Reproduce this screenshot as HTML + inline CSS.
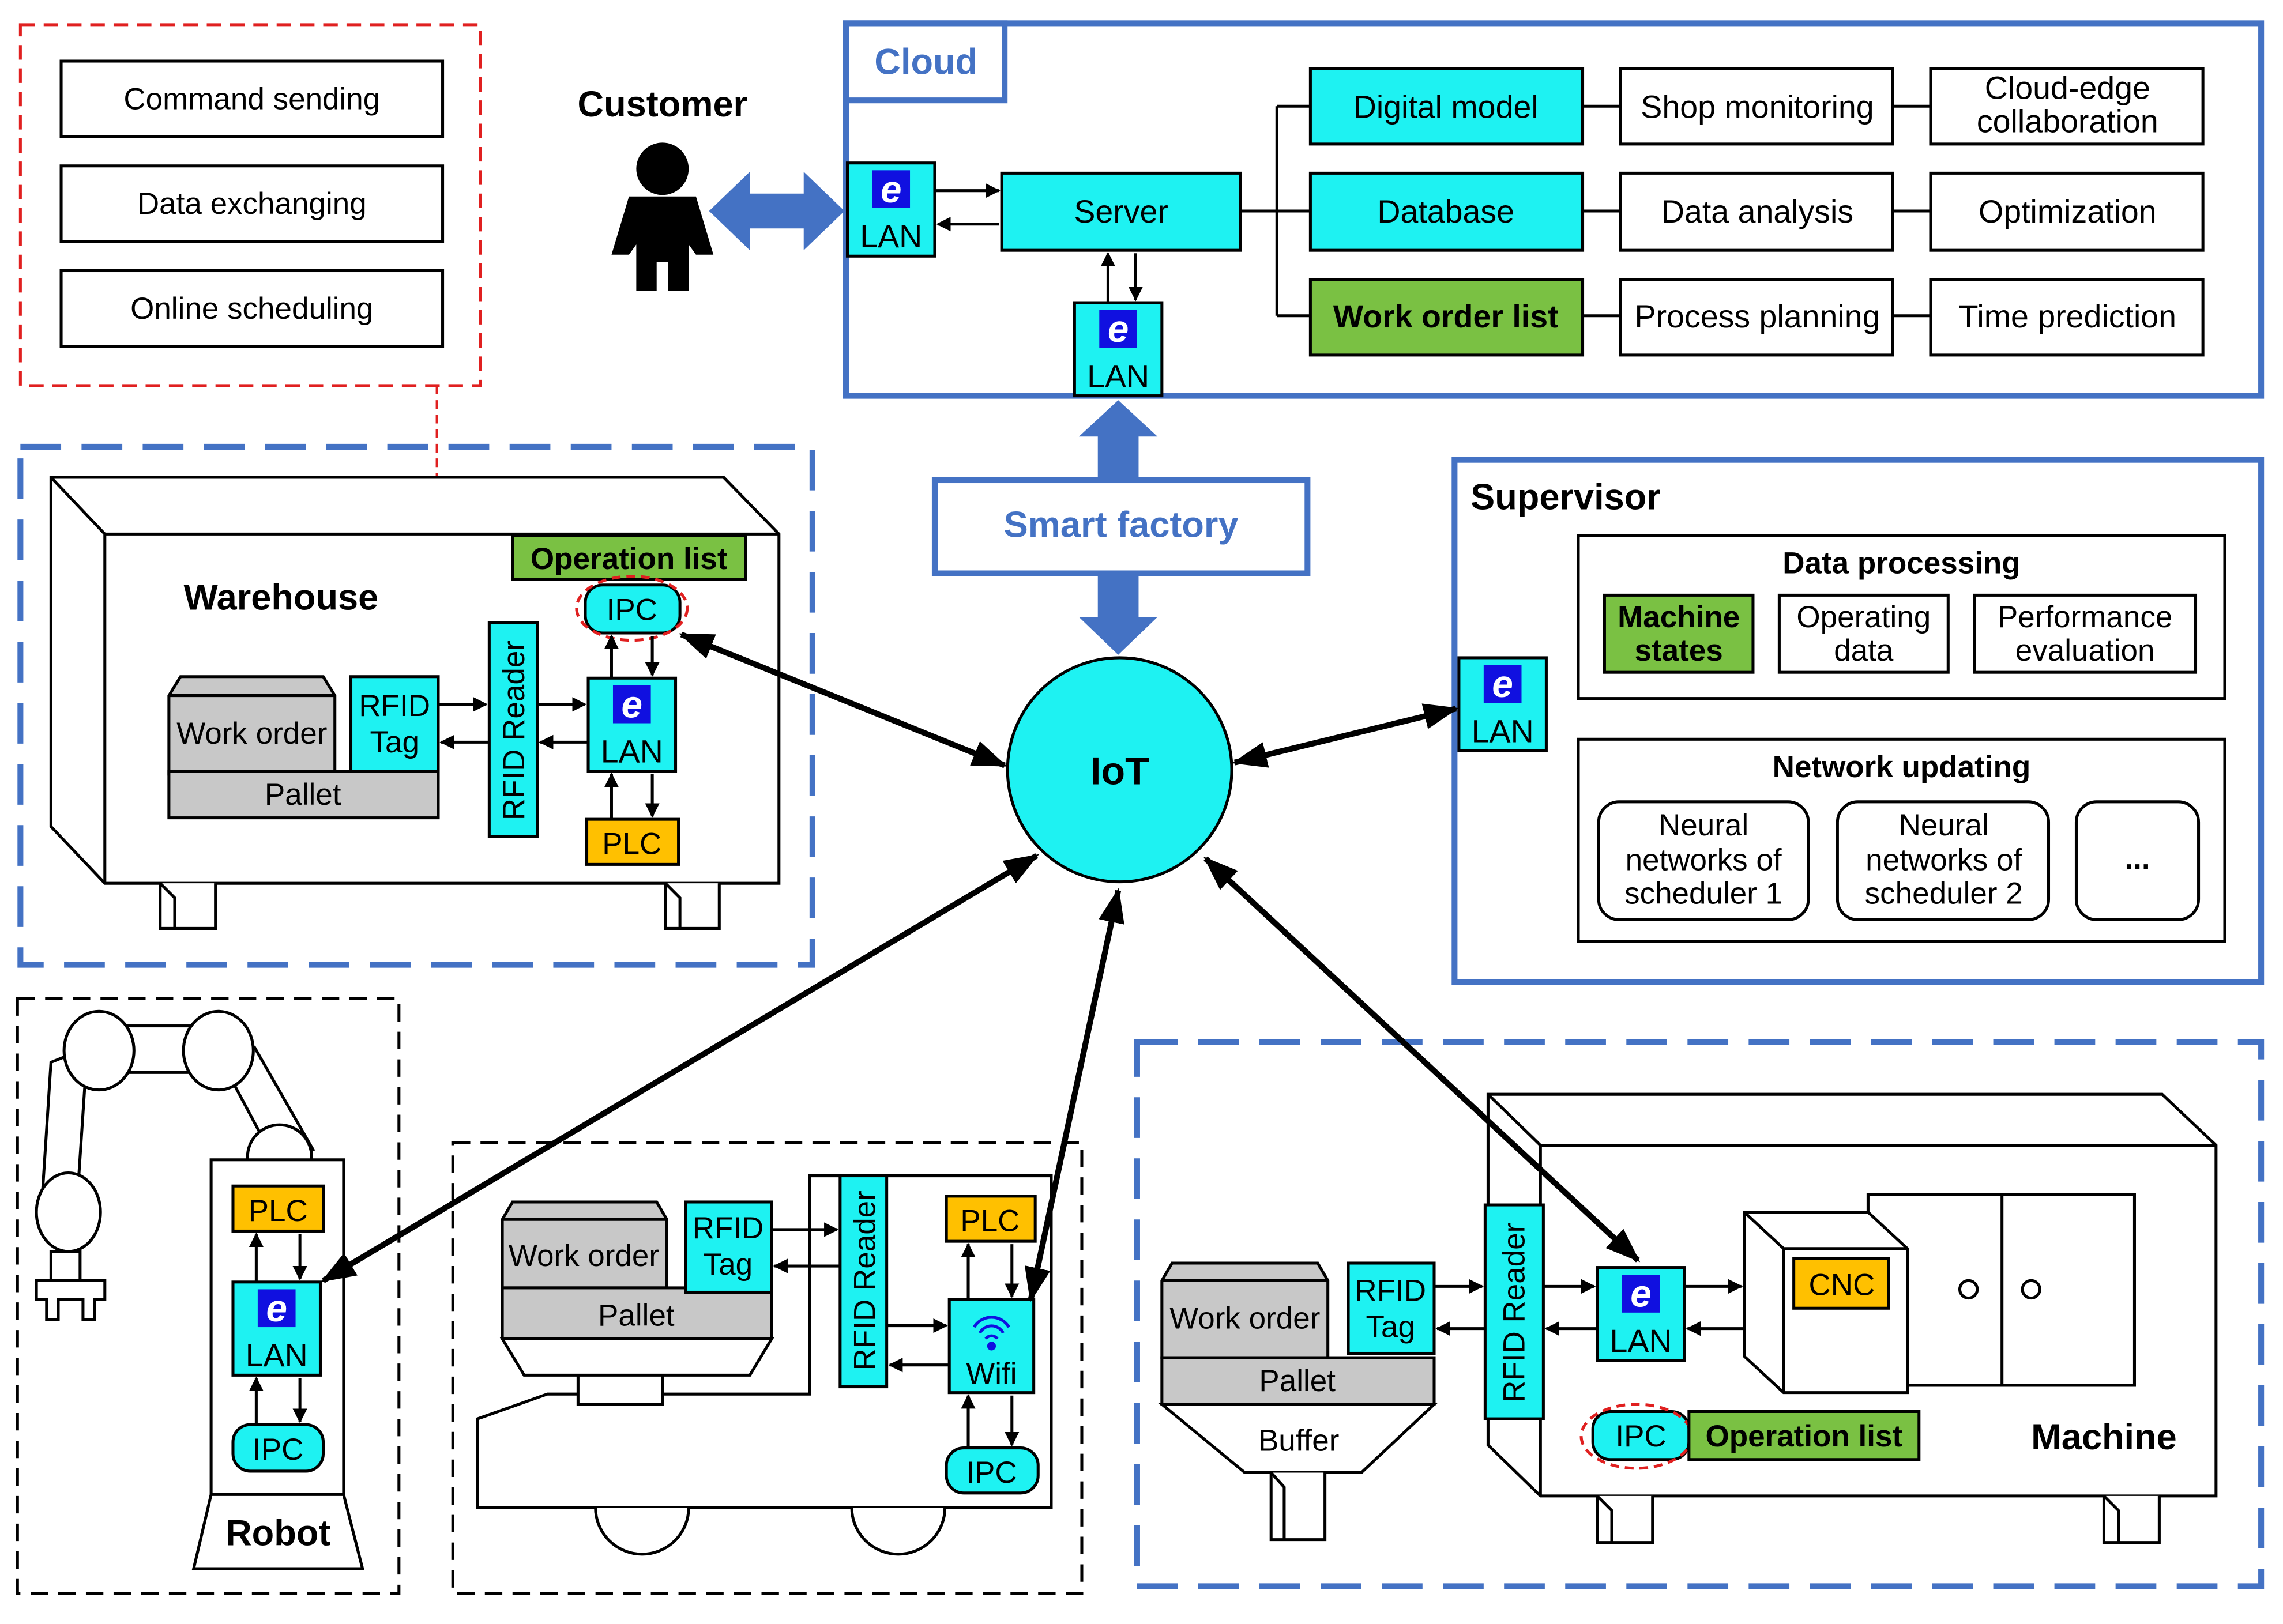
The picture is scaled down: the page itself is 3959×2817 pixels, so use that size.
<!DOCTYPE html>
<html><head><meta charset="utf-8"><style>
html,body{margin:0;padding:0;background:#fff}
svg{display:block}
text{font-family:"Liberation Sans",sans-serif;fill:#000}
.c{fill:#1ef2f2;stroke:#000;stroke-width:2}
.g{fill:#7ac143;stroke:#000;stroke-width:2}
.o{fill:#ffc000;stroke:#000;stroke-width:2}
.w{fill:#fff;stroke:#000;stroke-width:2}
.gr{fill:#c8c8c8;stroke:#000;stroke-width:2}
.ln{fill:none;stroke:#000;stroke-width:2}
.a{fill:none;stroke:#000;stroke-width:2;marker-end:url(#ah)}
.aa{fill:none;stroke:#000;stroke-width:4;marker-end:url(#bh);marker-start:url(#bh)}
.bd{fill:none;stroke:#4472c4;stroke-width:4;stroke-dasharray:28 14}
.kd{fill:none;stroke:#000;stroke-width:2;stroke-dasharray:12 7}
.bs{fill:none;stroke:#4472c4;stroke-width:4}
</style></head><body>
<svg width="3959" height="2817" viewBox="0 0 1568 1116" preserveAspectRatio="none" xmlns="http://www.w3.org/2000/svg">
<defs>
<marker id="ah" markerWidth="10" markerHeight="10" refX="9" refY="5" orient="auto" markerUnits="userSpaceOnUse"><path d="M0,0 L10,5 L0,10 z" fill="#000"/></marker>
<marker id="bh" markerWidth="24" markerHeight="18" refX="22" refY="9" orient="auto-start-reverse" markerUnits="userSpaceOnUse"><path d="M0,0 L24,9 L0,18 z" fill="#000"/></marker>
<g id="lan"><rect class="c" x="0" y="0" width="60" height="64"/><rect x="17" y="5" width="26" height="26" fill="#1010e0"/><text x="30" y="27" text-anchor="middle" font-family="Liberation Serif" font-style="italic" font-weight="bold" font-size="26" style="fill:#fff">e</text><text x="30" y="58" text-anchor="middle" font-size="22">LAN</text></g>
</defs>

<!-- red dashed -->
<rect x="14" y="17" width="316" height="248" fill="none" stroke="#e02020" stroke-width="2" stroke-dasharray="10 6"/>
<path d="M300,265 V417 H402" fill="none" stroke="#e02020" stroke-width="1.5" stroke-dasharray="6 4"/>
<g font-size="21" text-anchor="middle">
<rect class="w" x="42" y="42" width="262" height="52"/><text x="173" y="75">Command sending</text>
<rect class="w" x="42" y="114" width="262" height="52"/><text x="173" y="147">Data exchanging</text>
<rect class="w" x="42" y="186" width="262" height="52"/><text x="173" y="219">Online scheduling</text>
</g>

<!-- customer -->
<text x="455" y="80" font-size="25" font-weight="bold" text-anchor="middle">Customer</text>
<circle cx="455" cy="116" r="18" fill="#000"/>
<path d="M432,135 H478 L490,175 H478 L473,168 V200 H459 V180 H451 V200 H437 V168 L432,175 H420 Z" fill="#000"/>
<path d="M487,145 L515,118 V133 H552 V118 L580,145 L552,172 V157 H515 V172 Z" fill="#4472c4"/>

<!-- cloud -->
<rect class="bs" x="581" y="16" width="972" height="256"/>
<rect class="bs" x="581" y="16" width="109" height="53"/>
<text x="636" y="51" font-size="25" font-weight="bold" text-anchor="middle" style="fill:#4472c4">Cloud</text>
<use href="#lan" x="582" y="112"/>
<rect class="c" x="688" y="119" width="164" height="53"/><text x="770" y="153" font-size="22" text-anchor="middle">Server</text>
<path class="a" d="M642,131 H686"/><path class="a" d="M686,154 H644"/>
<use href="#lan" x="738" y="208"/>
<path class="a" d="M761,207 V174"/><path class="a" d="M780,174 V206"/>
<path class="ln" d="M852,145 H877 M877,73 V217 M877,73 H900 M877,217 H900 M877,145 H900"/>
<g font-size="22" text-anchor="middle">
<rect class="c" x="900" y="47" width="187" height="52"/><text x="993" y="81">Digital model</text>
<rect class="c" x="900" y="119" width="187" height="53"/><text x="993" y="153">Database</text>
<rect class="g" x="900" y="192" width="187" height="52"/><text x="993" y="225" font-weight="bold">Work order list</text>
<path class="ln" d="M1087,73 H1113 M1087,145 H1113 M1087,217 H1113 M1300,73 H1326 M1300,145 H1326 M1300,217 H1326"/>
<rect class="w" x="1113" y="47" width="187" height="52"/><text x="1207" y="81">Shop monitoring</text>
<rect class="w" x="1113" y="119" width="187" height="53"/><text x="1207" y="153">Data analysis</text>
<rect class="w" x="1113" y="192" width="187" height="52"/><text x="1207" y="225">Process planning</text>
<rect class="w" x="1326" y="47" width="187" height="52"/><text x="1420" y="68">Cloud-edge</text><text x="1420" y="91">collaboration</text>
<rect class="w" x="1326" y="119" width="187" height="53"/><text x="1420" y="153">Optimization</text>
<rect class="w" x="1326" y="192" width="187" height="52"/><text x="1420" y="225">Time prediction</text>
</g>

<!-- smart factory -->
<path d="M768,275 L795,300 H782 V330 H754 V300 H741 Z" fill="#4472c4"/>
<rect class="bs" x="642" y="330" width="256" height="64" fill="#fff"/>
<text x="770" y="369" font-size="25" font-weight="bold" text-anchor="middle" style="fill:#4472c4">Smart factory</text>
<path d="M754,394 H782 V424 H795 L768,450 L741,424 H754 Z" fill="#4472c4"/>
<circle cx="769" cy="529" r="77" class="c"/>
<text x="769" y="539" font-size="27" font-weight="bold" text-anchor="middle">IoT</text>

<!-- warehouse -->
<rect class="bd" x="14" y="307" width="544" height="356"/>
<path class="w" d="M35,328 H497 L535,367 V607 H72 L35,568 Z"/>
<path class="ln" d="M35,328 L72,367 H535 M72,367 V607"/>
<path class="w" d="M110,607 V638 H148 V607 M457,607 V638 H494 V607"/>
<path class="ln" d="M110,607 L120,617 V638 M457,607 L467,617 V638"/>
<text x="193" y="419" font-size="25" font-weight="bold" text-anchor="middle">Warehouse</text>
<rect class="g" x="352" y="368" width="160" height="30"/><text x="432" y="391" font-size="21" font-weight="bold" text-anchor="middle">Operation list</text>
<rect class="c" x="402" y="402" width="65" height="33" rx="12"/><text x="434" y="426" font-size="21" text-anchor="middle">IPC</text>
<ellipse cx="434" cy="418" rx="38" ry="22" fill="none" stroke="#e02020" stroke-width="2" stroke-dasharray="6 4"/>
<rect class="c" x="336" y="428" width="33" height="147"/><text transform="translate(360,502) rotate(-90)" font-size="21" text-anchor="middle">RFID Reader</text>
<use href="#lan" x="404" y="466"/>
<rect class="o" x="403" y="563" width="63" height="31"/><text x="434" y="587" font-size="21" text-anchor="middle">PLC</text>
<path class="gr" d="M116,478 L124,465 H222 L230,478 V532 H116 Z"/><path class="ln" d="M116,478 H230"/>
<text x="173" y="511" font-size="21" text-anchor="middle">Work order</text>
<rect class="gr" x="116" y="530" width="185" height="32"/><text x="208" y="553" font-size="21" text-anchor="middle">Pallet</text>
<rect class="c" x="241" y="465" width="60" height="65"/><text x="271" y="492" font-size="21" text-anchor="middle">RFID</text><text x="271" y="517" font-size="21" text-anchor="middle">Tag</text>
<path class="a" d="M301,484 H334"/><path class="a" d="M336,510 H303"/>
<path class="a" d="M369,484 H402"/><path class="a" d="M404,510 H371"/>
<path class="a" d="M420,466 V437"/><path class="a" d="M448,437 V464"/>
<path class="a" d="M420,563 V532"/><path class="a" d="M448,532 V561"/>
<path class="aa" d="M468,436 L690,526"/>

<!-- supervisor -->
<rect class="bs" x="999" y="316" width="554" height="359"/>
<text x="1010" y="350" font-size="25" font-weight="bold">Supervisor</text>
<use href="#lan" x="1002" y="452"/>
<path class="aa" d="M848,524 L1000,487"/>
<rect class="w" x="1084" y="368" width="444" height="112"/>
<text x="1306" y="394" font-size="21" font-weight="bold" text-anchor="middle">Data processing</text>
<g font-size="21" text-anchor="middle">
<rect class="g" x="1102" y="409" width="102" height="53"/><text x="1153" y="431" font-weight="bold">Machine</text><text x="1153" y="454" font-weight="bold">states</text>
<rect class="w" x="1222" y="409" width="116" height="53"/><text x="1280" y="431">Operating</text><text x="1280" y="454">data</text>
<rect class="w" x="1356" y="409" width="152" height="53"/><text x="1432" y="431">Performance</text><text x="1432" y="454">evaluation</text>
</g>
<rect class="w" x="1084" y="508" width="444" height="139"/>
<text x="1306" y="534" font-size="21" font-weight="bold" text-anchor="middle">Network updating</text>
<g font-size="21" text-anchor="middle">
<rect class="w" x="1098" y="551" width="144" height="81" rx="14"/><text x="1170" y="574">Neural</text><text x="1170" y="598">networks of</text><text x="1170" y="621">scheduler 1</text>
<rect class="w" x="1262" y="551" width="145" height="81" rx="14"/><text x="1335" y="574">Neural</text><text x="1335" y="598">networks of</text><text x="1335" y="621">scheduler 2</text>
<rect class="w" x="1426" y="551" width="84" height="81" rx="14"/><text x="1468" y="597" font-weight="bold">...</text>
</g>

<!-- robot -->
<rect class="kd" x="12" y="686" width="262" height="409"/>
<path class="w" d="M35,730 L60,720 L52,840 L28,838 Z"/>
<path class="w" d="M150,725 L175,720 L215,790 L190,800 Z"/>
<rect class="w" x="68" y="705" width="82" height="32"/>
<ellipse class="w" cx="68" cy="722" rx="24" ry="27"/>
<ellipse class="w" cx="150" cy="722" rx="24" ry="27"/>
<ellipse class="w" cx="192" cy="795" rx="22" ry="22"/>
<ellipse class="w" cx="47" cy="833" rx="22" ry="27"/>
<path class="w" d="M35,860 H55 V880 H35 Z"/>
<path class="w" d="M25,880 H72 V893 H65 V907 H57 V893 H40 V907 H32 V893 H25 Z"/>
<rect class="w" x="145" y="797" width="91" height="230"/>
<path class="w" d="M145,1027 H236 L249,1078 H133 Z"/>
<text x="191" y="1062" font-size="25" font-weight="bold" text-anchor="middle">Robot</text>
<rect class="o" x="160" y="815" width="62" height="31"/><text x="191" y="839" font-size="21" text-anchor="middle">PLC</text>
<use href="#lan" x="160" y="881"/>
<rect class="c" x="160" y="979" width="62" height="32" rx="12"/><text x="191" y="1003" font-size="21" text-anchor="middle">IPC</text>
<path class="a" d="M176,881 V848"/><path class="a" d="M206,848 V879"/>
<path class="a" d="M176,979 V947"/><path class="a" d="M206,947 V977"/>
<path class="aa" d="M712,588 L222,880"/>

<!-- AGV -->
<rect class="kd" x="311" y="785" width="432" height="310"/>
<path class="w" d="M556,808 H722 V1036 H328 V975 L376,958 H556 Z"/>
<path class="w" d="M409,1036 A32,32 0 0 0 473,1036 M585,1036 A32,32 0 0 0 649,1036"/>
<path class="w" d="M397,945 V965 H455 V945"/>
<path class="w" d="M345,920 H530 L515,945 H360 Z"/>
<path class="gr" d="M345,838 L352,826 H451 L458,838 V885 H345 Z"/><path class="ln" d="M345,838 H458"/>
<text x="401" y="870" font-size="21" text-anchor="middle">Work order</text>
<rect class="gr" x="345" y="885" width="185" height="35"/><text x="437" y="911" font-size="21" text-anchor="middle">Pallet</text>
<rect class="c" x="471" y="826" width="59" height="62"/><text x="500" y="851" font-size="21" text-anchor="middle">RFID</text><text x="500" y="876" font-size="21" text-anchor="middle">Tag</text>
<rect class="c" x="577" y="808" width="32" height="145"/><text transform="translate(601,880) rotate(-90)" font-size="21" text-anchor="middle">RFID Reader</text>
<rect class="o" x="650" y="822" width="61" height="31"/><text x="680" y="846" font-size="21" text-anchor="middle">PLC</text>
<rect class="c" x="652" y="893" width="58" height="64"/>
<path d="M669,912 A14,14 0 0 1 693,912 M673,916 A9,9 0 0 1 689,916 M677,920 A5,5 0 0 1 685,920" fill="none" stroke="#1010e0" stroke-width="2"/><circle cx="681" cy="925" r="3" fill="#1010e0"/>
<text x="681" y="951" font-size="21" text-anchor="middle">Wifi</text>
<rect class="c" x="650" y="995" width="63" height="31" rx="12"/><text x="681" y="1019" font-size="21" text-anchor="middle">IPC</text>
<path class="a" d="M530,845 H575"/><path class="a" d="M577,870 H532"/>
<path class="a" d="M609,911 H650"/><path class="a" d="M652,938 H611"/>
<path class="a" d="M665,893 V855"/><path class="a" d="M695,855 V891"/>
<path class="a" d="M665,995 V959"/><path class="a" d="M695,959 V993"/>
<path class="aa" d="M768,612 L708,893"/>

<!-- machine -->
<rect class="bd" x="781" y="716" width="772" height="374"/>
<path class="w" d="M1022,752 H1485 L1522,787 V1028 H1058 L1022,993 Z"/>
<path class="ln" d="M1022,752 L1058,787 H1522 M1058,787 V1028"/>
<path class="w" d="M1097,1028 V1060 H1135 V1028 M1445,1028 V1060 H1483 V1028"/>
<path class="ln" d="M1097,1028 L1107,1038 V1060 M1445,1028 L1455,1038 V1060"/>
<path class="w" d="M1283,821 H1466 V952 H1283 Z"/><path class="ln" d="M1375,821 V952"/>
<circle class="w" cx="1352" cy="886" r="6"/><circle class="w" cx="1395" cy="886" r="6"/>
<path class="w" d="M1198,833 H1283 L1310,858 V957 H1225 L1198,932 Z"/><path class="ln" d="M1198,833 L1225,858 H1310 M1225,858 V957"/>
<rect class="o" x="1232" y="865" width="65" height="34"/><text x="1265" y="890" font-size="21" text-anchor="middle">CNC</text>
<text x="1445" y="996" font-size="25" font-weight="bold" text-anchor="middle">Machine</text>
<path class="w" d="M798,965 H985 L935,1012 H855 Z"/>
<path class="w" d="M873,1012 V1058 H910 V1012"/><path class="ln" d="M873,1012 L882,1022 V1058"/>
<text x="892" y="997" font-size="21" text-anchor="middle">Buffer</text>
<path class="gr" d="M798,880 L805,868 H905 L912,880 V933 H798 Z"/><path class="ln" d="M798,880 H912"/>
<text x="855" y="913" font-size="21" text-anchor="middle">Work order</text>
<rect class="gr" x="798" y="933" width="187" height="32"/><text x="891" y="956" font-size="21" text-anchor="middle">Pallet</text>
<rect class="c" x="926" y="868" width="59" height="62"/><text x="955" y="894" font-size="21" text-anchor="middle">RFID</text><text x="955" y="919" font-size="21" text-anchor="middle">Tag</text>
<rect class="c" x="1020" y="828" width="40" height="147"/><text transform="translate(1047,902) rotate(-90)" font-size="21" text-anchor="middle">RFID Reader</text>
<use href="#lan" x="1097" y="871"/>
<rect class="c" x="1094" y="970" width="66" height="33" rx="12"/><text x="1127" y="994" font-size="21" text-anchor="middle">IPC</text>
<ellipse cx="1124" cy="987" rx="38" ry="22" fill="none" stroke="#e02020" stroke-width="2" stroke-dasharray="6 4"/>
<rect class="g" x="1160" y="970" width="158" height="33"/><text x="1239" y="994" font-size="21" font-weight="bold" text-anchor="middle">Operation list</text>
<path class="a" d="M985,884 H1018"/><path class="a" d="M1020,913 H987"/>
<path class="a" d="M1060,884 H1095"/><path class="a" d="M1097,913 H1062"/>
<path class="a" d="M1157,884 H1196"/><path class="a" d="M1198,913 H1159"/>
<path class="aa" d="M828,590 L1125,866"/>
</svg>
</body></html>
